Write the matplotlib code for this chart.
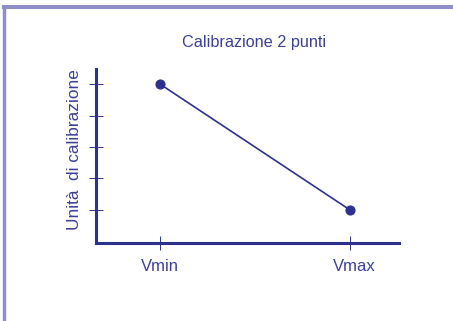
import matplotlib
matplotlib.use('Agg')
import matplotlib.pyplot as plt
import matplotlib.transforms as mtransforms
from matplotlib.lines import Line2D

plt.rcParams['font.family'] = ['Liberation Sans', 'DejaVu Sans']

# two-point calibration
xLabels = ['Vmin', 'Vmax']
xPos = [1, 2]
yVals = [5, 1]
yTicks = [1, 2, 3, 4, 5]

navy = '#2c3190'
textCol = '#3a3f98'
frameCol = '#8e8ec8'

fig = plt.figure(figsize=(4.53, 3.21), dpi=100)
ax = fig.add_axes([96/453, 78/321, 303/453, 174/321])

ax.plot(xPos, yVals, color=navy, lw=1.2, marker='o', ms=6.3, mfc=navy, mec=navy)

ax.set_xlim(0.663, 2.258)
ax.set_ylim(-0.05, 5.48)
ax.set_xticks(xPos)
ax.set_xticklabels(xLabels)
ax.set_yticks(yTicks)
ax.set_yticklabels([])

for s in ['top', 'right']:
    ax.spines[s].set_visible(False)
for s in ['left', 'bottom']:
    ax.spines[s].set_color(navy)
    ax.spines[s].set_linewidth(2.2)
    ax.spines[s].set_capstyle('projecting')

ax.tick_params(axis='both', direction='inout', length=9.5, width=0.7, color=navy,
               labelsize=12, labelcolor=textCol)
ax.tick_params(axis='x', pad=7)

# Vmax label sits a little right of its tick
lbl = ax.get_xticklabels()[1]
lbl.set_transform(lbl.get_transform() + mtransforms.ScaledTranslation(4/100, 0, fig.dpi_scale_trans))

fig.text(74.5/453, 1 - 149.5/321, 'Unità  di calibrazione', fontsize=12.4, color=textCol,
         rotation=90, ha='center', va='center')
fig.text(253.7/453, 1 - 42/321, 'Calibrazione 2 punti', fontsize=11.7, color=textCol,
         ha='center', va='center')

# frame round the figure
fig.add_artist(Line2D([4.3/453, 1], [1 - 7.3/321, 1 - 7.3/321], transform=fig.transFigure,
                      color=frameCol, lw=2.9, solid_capstyle='projecting'))
fig.add_artist(Line2D([4.3/453, 4.3/453], [0, 1 - 7.3/321], transform=fig.transFigure,
                      color=frameCol, lw=2.5, solid_capstyle='butt'))

fig.savefig('out.png', dpi=100)
